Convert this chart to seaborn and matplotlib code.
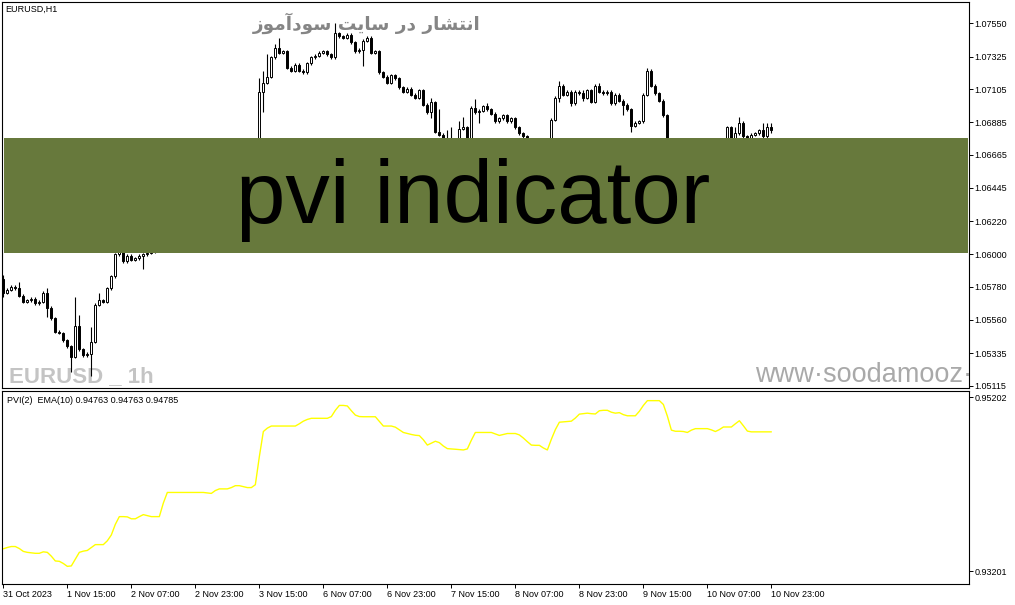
import numpy as np
import matplotlib.pyplot as plt
import seaborn as sns
from matplotlib.patches import Rectangle

# --- EURUSD H1 candles (one row = 16 bars) ---
first_open = 1.0583
closes = [
    1.0574, 1.0576, 1.0578, 1.0577, 1.0572, 1.0568, 1.0569, 1.0570, 1.0567, 1.0568, 1.0574, 1.0564, 1.0557, 1.0548, 1.0547, 1.0542,
    1.0538, 1.0531, 1.0552, 1.0536, 1.0532, 1.0533, 1.0541, 1.0566, 1.0569, 1.0568, 1.0577, 1.0585, 1.0600, 1.0603, 1.0595, 1.0599,
    1.0596, 1.0597, 1.0599, 1.0600, 1.0601, 1.0602, 1.0606, 1.0613, 1.0623, 1.0633, 1.0636, 1.0640, 1.0636, 1.0633, 1.0630, 1.0626,
    1.0623, 1.0621, 1.0624, 1.0626, 1.0624, 1.0623, 1.0626, 1.0628, 1.0630, 1.0633, 1.0636, 1.0638, 1.0640, 1.0636, 1.0643, 1.0646,
    1.0709, 1.0715, 1.0719, 1.0732, 1.0738, 1.0735, 1.0736, 1.0725, 1.0723, 1.0727, 1.0723, 1.0722, 1.0728, 1.0732, 1.0733, 1.0735,
    1.0736, 1.0734, 1.0732, 1.0748, 1.0746, 1.0745, 1.0747, 1.0742, 1.0736, 1.0737, 1.0743, 1.0745, 1.0735, 1.0736, 1.0722, 1.0719,
    1.0715, 1.0720, 1.0718, 1.0712, 1.0709, 1.0711, 1.0707, 1.0705, 1.0710, 1.0700, 1.0695, 1.0702, 1.0682, 1.0680, 1.0675, 1.0670,
    1.0672, 1.0674, 1.0684, 1.0685, 1.0678, 1.0698, 1.0695, 1.0696, 1.0699, 1.0697, 1.0694, 1.0689, 1.0691, 1.0693, 1.0689, 1.0691,
    1.0685, 1.0681, 1.0679, 1.0677, 1.0673, 1.0668, 1.0670, 1.0666, 1.0671, 1.0690, 1.0705, 1.0713, 1.0707, 1.0709, 1.0701, 1.0709,
    1.0708, 1.0705, 1.0710, 1.0702, 1.0713, 1.0709, 1.0708, 1.0709, 1.0701, 1.0707, 1.0703, 1.0700, 1.0697, 1.0686, 1.0688, 1.0689,
    1.0707, 1.0723, 1.0713, 1.0708, 1.0703, 1.0693, 1.0677, 1.0670, 1.0664, 1.0662, 1.0663, 1.0661, 1.0664, 1.0663, 1.0666, 1.0665,
    1.0668, 1.0670, 1.0671, 1.0674, 1.0677, 1.0685, 1.0678, 1.0681, 1.0688, 1.0679, 1.0678, 1.0680, 1.0681, 1.0683, 1.0679, 1.0685,
    1.0683,
]
# wick lengths above / below the body, in pips
upper_wick = [
    3, 1, 1, 1, 4, 1, 1, 1, 1, 1, 1, 3, 1, 1, 1, 1,
    1, 1, 19, 7, 1, 1, 10, 1, 5, 1, 1, 1, 1, 1, 1, 1,
    1, 1, 1, 1, 1, 1, 1, 1, 1, 1, 1, 1, 1, 1, 1, 1,
    1, 1, 1, 1, 1, 1, 1, 1, 1, 1, 1, 1, 1, 1, 1, 1,
    9, 8, 15, 1, 3, 7, 1, 1, 1, 1, 1, 1, 1, 1, 1, 1,
    1, 1, 1, 7, 1, 1, 1, 1, 1, 1, 1, 1, 1, 1, 1, 1,
    1, 1, 1, 1, 1, 1, 1, 1, 1, 1, 1, 3, 1, 15, 1, 8,
    13, 1, 5, 7, 1, 1, 6, 1, 1, 2, 1, 1, 1, 1, 1, 1,
    1, 1, 1, 1, 1, 1, 1, 1, 1, 1, 1, 3, 1, 1, 1, 1,
    1, 2, 1, 1, 1, 2, 1, 1, 1, 1, 1, 1, 1, 1, 1, 1,
    1, 2, 1, 1, 1, 1, 1, 1, 1, 1, 1, 1, 1, 1, 1, 1,
    1, 1, 1, 1, 1, 1, 1, 4, 4, 1, 1, 1, 1, 1, 5, 3,
    3,
]
lower_wick = [
    3, 1, 1, 1, 1, 1, 1, 1, 1, 1, 1, 6, 1, 1, 1, 1,
    1, 10, 1, 1, 1, 1, 15, 1, 1, 1, 1, 1, 1, 1, 1, 1,
    1, 1, 1, 9, 1, 1, 1, 1, 1, 1, 1, 1, 1, 1, 1, 1,
    1, 1, 1, 1, 1, 1, 1, 1, 1, 1, 1, 1, 1, 1, 1, 1,
    3, 14, 1, 1, 1, 1, 1, 1, 1, 1, 1, 1, 1, 1, 1, 1,
    1, 1, 1, 1, 1, 1, 1, 1, 1, 1, 11, 1, 1, 1, 1, 1,
    1, 1, 1, 1, 1, 1, 1, 1, 1, 1, 1, 4, 1, 1, 1, 1,
    1, 1, 1, 1, 1, 1, 1, 7, 1, 1, 1, 1, 1, 1, 1, 1,
    1, 1, 1, 1, 1, 1, 1, 1, 1, 1, 1, 3, 1, 1, 2, 1,
    1, 2, 1, 1, 1, 1, 1, 1, 1, 1, 1, 7, 1, 4, 1, 1,
    1, 1, 1, 1, 1, 1, 1, 1, 1, 1, 1, 1, 1, 1, 1, 1,
    1, 1, 1, 1, 1, 1, 1, 1, 1, 1, 1, 1, 1, 1, 1, 1,
    2,
]

# --- PVI(2) indicator, one value per bar ---
pvi = [
    0.93461, 0.93476, 0.93487, 0.93487, 0.93464, 0.93431, 0.93420, 0.93414, 0.93409, 0.93409, 0.93426, 0.93420, 0.93376, 0.93321, 0.93317, 0.93292,
    0.93259, 0.93264, 0.93342, 0.93420, 0.93434, 0.93442, 0.93476, 0.93509, 0.93509, 0.93509, 0.93553, 0.93620, 0.93742, 0.93831, 0.93831, 0.93828,
    0.93806, 0.93806, 0.93831, 0.93854, 0.93842, 0.93831, 0.93831, 0.93831, 0.93987, 0.94109, 0.94109, 0.94109, 0.94109, 0.94109, 0.94109, 0.94109,
    0.94109, 0.94109, 0.94109, 0.94104, 0.94098, 0.94131, 0.94150, 0.94150, 0.94150, 0.94165, 0.94187, 0.94187, 0.94176, 0.94165, 0.94165, 0.94198,
    0.94521, 0.94810, 0.94849, 0.94873, 0.94873, 0.94873, 0.94873, 0.94873, 0.94873, 0.94873, 0.94899, 0.94929, 0.94949, 0.94962, 0.94962, 0.94962,
    0.94962, 0.94962, 0.94982, 0.95054, 0.95110, 0.95110, 0.95104, 0.95049, 0.94999, 0.94982, 0.94980, 0.94980, 0.94980, 0.94980, 0.94926, 0.94873,
    0.94873, 0.94873, 0.94860, 0.94829, 0.94799, 0.94787, 0.94776, 0.94767, 0.94763, 0.94715, 0.94654, 0.94676, 0.94698, 0.94682, 0.94643, 0.94613,
    0.94610, 0.94606, 0.94602, 0.94598, 0.94610, 0.94710, 0.94799, 0.94799, 0.94799, 0.94799, 0.94799, 0.94782, 0.94765, 0.94776, 0.94787, 0.94787,
    0.94787, 0.94771, 0.94735, 0.94693, 0.94654, 0.94651, 0.94651, 0.94621, 0.94598, 0.94721, 0.94832, 0.94917, 0.94921, 0.94924, 0.94929, 0.94965,
    0.95010, 0.95015, 0.95021, 0.95015, 0.95012, 0.95049, 0.95054, 0.95054, 0.95032, 0.95021, 0.95027, 0.95004, 0.94991, 0.94991, 0.94991, 0.95043,
    0.95110, 0.95165, 0.95165, 0.95165, 0.95165, 0.95121, 0.94987, 0.94826, 0.94813, 0.94813, 0.94810, 0.94799, 0.94826, 0.94843, 0.94843, 0.94843,
    0.94843, 0.94829, 0.94810, 0.94832, 0.94862, 0.94862, 0.94862, 0.94899, 0.94934, 0.94876, 0.94815, 0.94806, 0.94806, 0.94806, 0.94806, 0.94806,
    0.94806,
]

time_labels = ["31 Oct 2023", "1 Nov 15:00", "2 Nov 07:00", "2 Nov 23:00", "3 Nov 15:00",
               "6 Nov 07:00", "6 Nov 23:00", "7 Nov 15:00", "8 Nov 07:00", "8 Nov 23:00",
               "9 Nov 15:00", "10 Nov 07:00", "10 Nov 23:00"]
price_ticks = [1.07550, 1.07325, 1.07105, 1.06885, 1.06665, 1.06445,
               1.06220, 1.06000, 1.05780, 1.05560, 1.05335, 1.05115]
pvi_ticks = [0.95202, 0.93201]

# "انتشار در سایت سودآموز" written with Arabic presentation forms in visual order,
# because matplotlib does no Arabic shaping / bidi itself
arabic_title = "\uFEAF\uFEEE\uFEE3\uFE81\uFEA9\uFEEE\uFEB3 \uFE96\uFBFE\uFE8E\uFEB3 \uFEAD\uFEA9 \uFEAD\uFE8E\uFEB8\uFE98\uFEE7\uFE8D"

sns.set_theme(style="white")
plt.rcParams['font.family'] = ['Liberation Sans', 'DejaVu Sans']

n = len(closes)
bars = np.arange(n)
close_a = np.array(closes)
open_a = np.r_[first_open, close_a[:-1]]
tops = np.maximum(open_a, close_a)
bots = np.minimum(open_a, close_a)
highs = tops + np.array(upper_wick) * 0.0001
lows = bots - np.array(lower_wick) * 0.0001

W, H = 1015, 605
fig = plt.figure(figsize=(W / 100, H / 100), dpi=100)
fig.patch.set_facecolor("white")
ax = fig.add_axes([2 / W, 1 - 388 / H, 967 / W, 386 / H])
ax2 = fig.add_axes([2 / W, 1 - 584 / H, 967 / W, 193 / H])

xlim = (-0.33, 241.4)

# --- main price window ---
ax.vlines(bars, lows, highs, color="black", lw=0.8, zorder=2)
fills = np.where(close_a >= open_a, "white", "black")
ax.bar(bars, np.maximum(tops - bots, 0.00002), bottom=bots, width=0.5,
       color=fills, edgecolor="black", linewidth=0.7, zorder=3)
ax.set_xlim(*xlim)
ax.set_ylim(1.05101, 1.07691)
ax.set_xticks([])
ax.yaxis.tick_right()
ax.set_yticks(price_ticks)
ax.set_yticklabels([f"{v:.5f}" for v in price_ticks])
ax.tick_params(axis="y", right=True, length=3, width=0.7, pad=1,
               labelsize=6.5, colors="black", direction="out")

ax.text(0.003, 0.982, "EURUSD,H1", transform=ax.transAxes, fontsize=6.5,
        color="black", va="center", ha="left", zorder=6)
ax.text(0.377, 0.945, arabic_title, transform=ax.transAxes, fontsize=13.3,
        family=["DejaVu Sans"], weight="bold", color="#858585",
        ha="center", va="center", zorder=1)
ax.text(0.0075, 0.016, "EURUSD _ 1h", transform=ax.transAxes, fontsize=16,
        family=["Liberation Sans"], weight="bold",
        color="#c4c4c4", ha="left", va="baseline", zorder=1)
ax.text(0.7787, 0.016, "www\u00b7soodamooz\u00b7com", transform=ax.transAxes,
        fontsize=19.5, color="#a9a9a9", ha="left", va="baseline",
        clip_on=True, zorder=1)

# banner
ax.add_patch(Rectangle((0.002, 0.3497), 0.997, 0.298, transform=ax.transAxes,
                       facecolor="#67793c", edgecolor="none", zorder=5))
ax.text(0.4876, 0.4275, "pvi indicator", transform=ax.transAxes, fontsize=64,
        color="black", ha="center", va="baseline", zorder=6)

# --- PVI window ---
sns.lineplot(x=bars, y=pvi, ax=ax2, color="#ffff00", lw=1.0, legend=False)
ax2.set_xlim(*xlim)
ax2.set_ylim(0.93056, 0.95276)
ax2.set_xticks(bars[::16])
ax2.set_xticklabels(time_labels, ha="left")
ax2.tick_params(axis="x", bottom=True, length=3, width=0.7, pad=1.5,
                labelsize=6.5, colors="black", direction="out")
ax2.yaxis.tick_right()
ax2.set_yticks(pvi_ticks)
ax2.set_yticklabels([f"{v:.5f}" for v in pvi_ticks])
ax2.tick_params(axis="y", right=True, length=3, width=0.7, pad=1,
                labelsize=6.5, colors="black", direction="out")
ax2.set_xlabel("")
ax2.set_ylabel("")
ax2.text(0.005, 0.953, "PVI(2)  EMA(10) 0.94763 0.94763 0.94785",
         transform=ax2.transAxes, fontsize=6.5, color="black",
         ha="left", va="center")

for a in (ax, ax2):
    a.set_facecolor("white")
    for s in a.spines.values():
        s.set_color("black")
        s.set_linewidth(0.8)

fig.savefig("out.png", dpi=100)
plt.close(fig)
